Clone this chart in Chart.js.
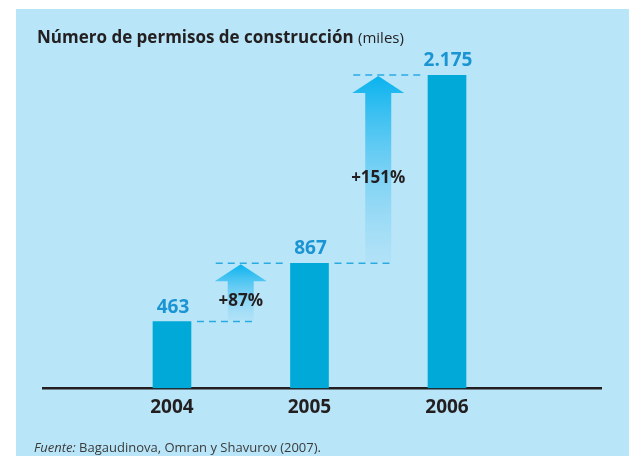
<!DOCTYPE html>
<html>
<head>
<meta charset="utf-8">
<script src="https://cdn.jsdelivr.net/npm/chart.js@4.4.1/dist/chart.umd.min.js"></script>
<style>
    html, body { margin: 0; padding: 0; background: #ffffff; }
    canvas { display: block; }
</style>
</head>
<body>
<canvas id="permisosChart" width="629" height="456"></canvas>
<script>
// data
const years = [2004, 2005, 2006];
const permits = [463, 867, 2175];
const growthLabels = ['+87%', '+151%'];

const titleBold = 'Número de permisos de construcción';
const titleUnit = '(miles)';
const sourceLead = 'Fuente:';
const sourceText = 'Bagaudinova, Omran y Shavurov (2007).';

const FONT = '"Open Sans", "DejaVu Sans", sans-serif';
const BOX_COLOR = '#b9e5f8';
const BAR_COLOR = '#00a9d8';
const VALUE_COLOR = '#1a94d2';
const DASH_COLOR = '#29abe2';
const TEXT_COLOR = '#231f20';

/**
 * @description Format a number with a dot as thousands separator (2175 -> 2.175).
 */
function FormatThousands(value)
{
    return String(value).replace(/\B(?=(\d{3})+(?!\d))/g, '.');
}

/**
 * @description Draw a dashed horizontal line.
 */
function DashedLine(ctx, x1, x2, y)
{
    ctx.save();
    ctx.strokeStyle = DASH_COLOR;
    ctx.lineWidth = 1.5;
    ctx.setLineDash([7, 5]);
    ctx.beginPath();
    ctx.moveTo(x1, y);
    ctx.lineTo(x2, y);
    ctx.stroke();
    ctx.restore();
}

/**
 * @description Draw an upward arrow filled with a fading gradient.
 */
function GrowthArrow(ctx, x, tipY, bottomY)
{
    const headH = 17, headHalf = 26, shaftHalf = 13;
    const grad = ctx.createLinearGradient(0, tipY, 0, bottomY);
    grad.addColorStop(0, 'rgba(0, 176, 238, 0.95)');
    grad.addColorStop(1, 'rgba(120, 205, 243, 0.12)');
    ctx.save();
    ctx.fillStyle = grad;
    ctx.beginPath();
    ctx.moveTo(x, tipY);
    ctx.lineTo(x + headHalf, tipY + headH);
    ctx.lineTo(x + shaftHalf, tipY + headH);
    ctx.lineTo(x + shaftHalf, bottomY);
    ctx.lineTo(x - shaftHalf, bottomY);
    ctx.lineTo(x - shaftHalf, tipY + headH);
    ctx.lineTo(x - headHalf, tipY + headH);
    ctx.closePath();
    ctx.fill();
    ctx.restore();
}

//background box behind the chart
const boxPlugin = {
    id: 'boxPlugin',
    beforeDraw(chart)
    {
        const ctx = chart.ctx;
        ctx.save();
        ctx.fillStyle = '#ffffff';
        ctx.fillRect(0, 0, chart.width, chart.height);
        ctx.fillStyle = BOX_COLOR;
        ctx.fillRect(16, 9, chart.width - 16, chart.height - 9);
        ctx.restore();
    }
};

//value labels, dashed guides, growth arrows, title and source
const notesPlugin = {
    id: 'notesPlugin',
    afterDatasetsDraw(chart)
    {
        const ctx = chart.ctx;
        const xs = chart.scales.x;
        const ys = chart.scales.y;
        const half = 19;

        // dashed guides + arrows between consecutive bars
        for (let i = 0; i < years.length - 1; i++)
        {
            const xa = xs.getPixelForValue(years[i]);
            const xb = xs.getPixelForValue(years[i + 1]);
            const mid = xs.getPixelForValue((years[i] + years[i + 1]) / 2);
            const yLow = ys.getPixelForValue(permits[i]);
            const yHigh = ys.getPixelForValue(permits[i + 1]);

            DashedLine(ctx, xa + half + 6, mid + 16, yLow);
            DashedLine(ctx, mid - 25, xb - half - 4, yHigh);
            GrowthArrow(ctx, mid, yHigh + 1, yLow - 1);

            ctx.save();
            ctx.fillStyle = TEXT_COLOR;
            ctx.font = 'bold 17px ' + FONT;
            ctx.textAlign = 'center';
            ctx.textBaseline = 'middle';
            ctx.fillText(growthLabels[i], mid, (yHigh + 17 + yLow) / 2);
            ctx.restore();
        }

        // values over the bars
        ctx.save();
        ctx.fillStyle = VALUE_COLOR;
        ctx.font = 'bold 19px ' + FONT;
        ctx.textAlign = 'center';
        ctx.textBaseline = 'alphabetic';
        years.forEach((year, i) => {
            ctx.fillText(FormatThousands(permits[i]), xs.getPixelForValue(year) + 1, ys.getPixelForValue(permits[i]) - 9);
        });
        ctx.restore();
    },
    afterDraw(chart)
    {
        const ctx = chart.ctx;
        ctx.save();
        ctx.fillStyle = TEXT_COLOR;
        ctx.textBaseline = 'alphabetic';
        ctx.textAlign = 'left';
        ctx.font = 'bold 17px ' + FONT;
        ctx.fillText(titleBold, 37, 43);
        let w = ctx.measureText(titleBold + ' ').width;
        ctx.font = '15px ' + FONT;
        ctx.fillText(titleUnit, 37 + w, 43);

        ctx.fillStyle = '#3a3a3a';
        ctx.font = 'italic 13px ' + FONT;
        ctx.fillText(sourceLead, 34, 452);
        w = ctx.measureText(sourceLead + ' ').width;
        ctx.font = '13px ' + FONT;
        ctx.fillText(sourceText, 34 + w, 452);
        ctx.restore();
    }
};

/**
 * @description Create the bar chart.
 */
function CreateChart(chartId)
{
    const ctx = document.getElementById(chartId);
    return new Chart(ctx,
        {
            type: 'bar',
            data:
                {
                    datasets: [
                        {
                            data: years.map((year, i) => ({ x: year, y: permits[i] })),
                            backgroundColor: BAR_COLOR,
                            borderWidth: 0,
                            barThickness: 38,
                        }
                    ]
                },
            options:
                {
                    responsive: false,
                    animation: false,
                    layout:
                        {
                            padding: { top: 75, left: 43, right: 28, bottom: 37 }
                        },
                    scales:
                        {
                            x:
                                {
                                    type: 'linear',
                                    min: 2003.062,
                                    max: 2007.12,
                                    offset: false,
                                    grid: { display: false },
                                    border: { display: true, color: TEXT_COLOR, width: 2.5 },
                                    afterBuildTicks: function (scale) {
                                        scale.ticks = years.map(v => ({ value: v }));
                                    },
                                    ticks:
                                        {
                                            padding: 0,
                                            color: TEXT_COLOR,
                                            font: { family: FONT, size: 19, weight: 'bold' },
                                            callback: function (value) {
                                                return String(value);
                                            }
                                        }
                                },
                            y:
                                {
                                    display: false,
                                    min: 0,
                                    max: 2175,
                                }
                        },
                    plugins:
                        {
                            legend: { display: false },
                            title: { display: false },
                            tooltip: { enabled: false }
                        }
                },
            plugins: [boxPlugin, notesPlugin]
        });
}

CreateChart('permisosChart');
</script>
</body>
</html>
